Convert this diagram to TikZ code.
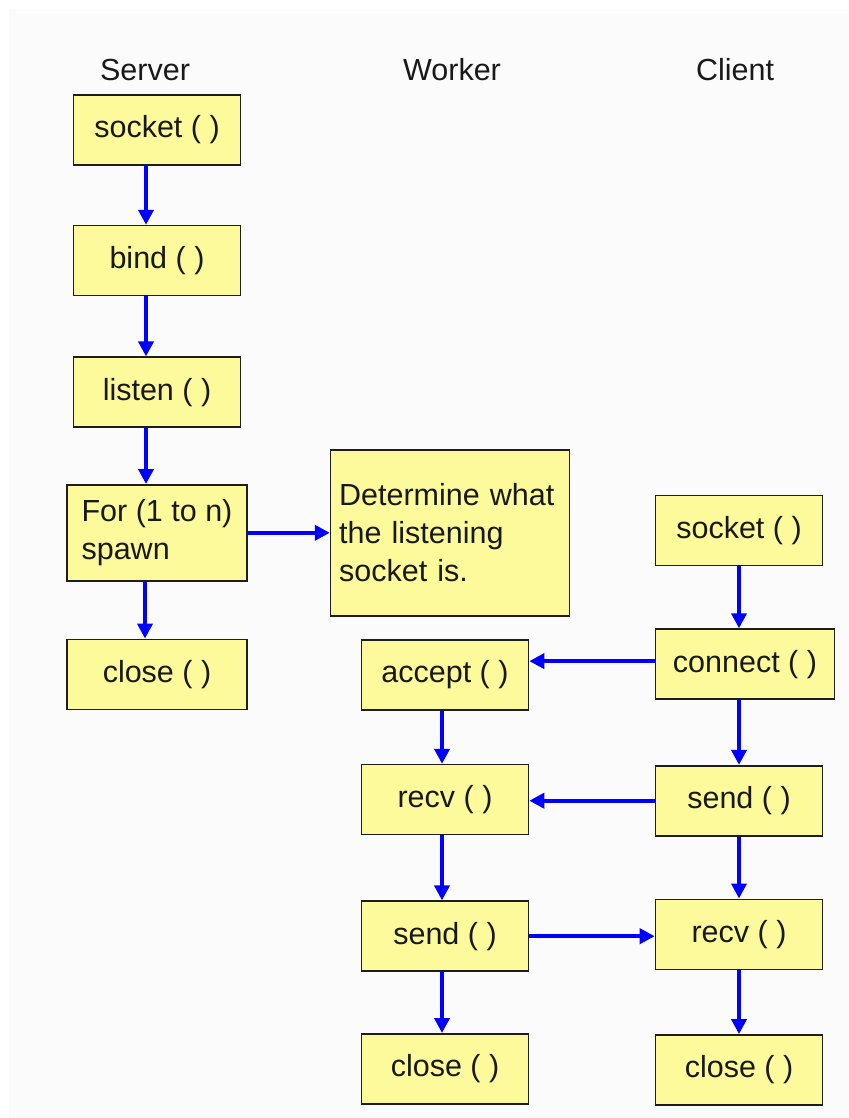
\documentclass[tikz,border=0pt]{standalone}
\usepackage{fontspec}
\setmainfont{Liberation Sans}
\usepackage{tikz}
\usetikzlibrary{arrows.meta,positioning}
\definecolor{sBox}{RGB}{252,250,155}
\definecolor{sLine}{RGB}{30,30,30}
\definecolor{sFlow}{RGB}{0,0,255}
\definecolor{sPanel}{RGB}{251,251,252}

\begin{document}
\begin{tikzpicture}[
					x=1pt,y=-1pt,
					>={Triangle[width=15pt,length=15pt]},
					fn/.style={
						draw=sLine,
						line width=1.6pt,
						fill=sBox,
						minimum width=167pt,
						minimum height=70pt,
						inner sep=0pt,
						text=black!90,
						font=\fontsize{30.5}{38}\selectfont
					},
					head/.style={text=black!90,font=\fontsize{30.5}{38}\selectfont},
					flow/.style={->,draw=sFlow,line width=4pt}
					]
					\useasboundingbox (0,0) rectangle (848,1118);
					\fill[sPanel] (9,9) rectangle (848,1118);
					
					% column titles
					\node[head](tserver) at (145,70){Server};
					\node[head](tworker) at (452,70){Worker};
					\node[head](tclient) at (735,70){Client};
					
					% server
					\node[fn](ssock) at (157,130){socket ( )};
					\node[fn,below=59pt of ssock](sbind){bind ( )};
					\node[fn,below=60pt of sbind](slisten){listen ( )};
					\node[fn,below=56pt of slisten,minimum width=180pt,minimum height=96pt,
						align=left](sspawn){For (1 to n)\\spawn};
					\node[fn,below=57pt of sspawn,minimum width=180pt](sclose){close ( )};
					\node[fn,right=82pt of sspawn,minimum width=239pt,minimum height=166pt,
						text width=222pt,align=left](sdet){Determine what\\the listening\\socket is.};
					
					% worker
					\node[fn](waccept) at (445,675){accept ( )};
					\node[fn,below=53pt of waccept](wrecv){recv ( )};
					\node[fn,below=65pt of wrecv](wsend){send ( )};
					\node[fn,below=61pt of wsend](wclose){close ( )};
					
					% client
					\node[fn](csock) at (739,530.5){socket ( )};
					\node[fn,below=62pt of csock.south west,anchor=north west,minimum width=179pt](cconn){connect ( )};
					\node[fn,below=65pt of cconn.south west,anchor=north west](csend){send ( )};
					\node[fn,below=62pt of csend.south west,anchor=north west](crecv){recv ( )};
					\node[fn,below=64pt of crecv.south west,anchor=north west](cclose){close ( )};
					
					\draw[flow]([xshift=-11pt]ssock.south)--([xshift=-11pt]sbind.north);
					\draw[flow]([xshift=-11pt]sbind.south)--([xshift=-11pt]slisten.north);
					\draw[flow]([xshift=-11pt]slisten.south)--([xshift=-11pt]sspawn.north);
					\draw[flow]([xshift=-12pt]sspawn.south)--([xshift=-12pt]sclose.north);
					\draw[flow](sspawn)--(sdet);
					
					\draw[flow]([xshift=-3pt]waccept.south)--([xshift=-3pt]wrecv.north);
					\draw[flow]([xshift=-3pt]wrecv.south)--([xshift=-3pt]wsend.north);
					\draw[flow]([xshift=-3pt]wsend.south)--([xshift=-3pt]wclose.north);
					
					\draw[flow](csock.south)--(csock.south|-cconn.north);
					\draw[flow](csock.south|-cconn.south)--(csend.north);
					\draw[flow](csend)--(crecv);
					\draw[flow](crecv)--(cclose);
					
					\draw[flow]([yshift=3pt]cconn.west)--([yshift=3pt]cconn.west-|waccept.east);
					\draw[flow](csend.west)--(csend.west-|wrecv.east);
					\draw[flow](wsend.east)--(wsend.east-|crecv.west);
					
				\end{tikzpicture}
\end{document}
